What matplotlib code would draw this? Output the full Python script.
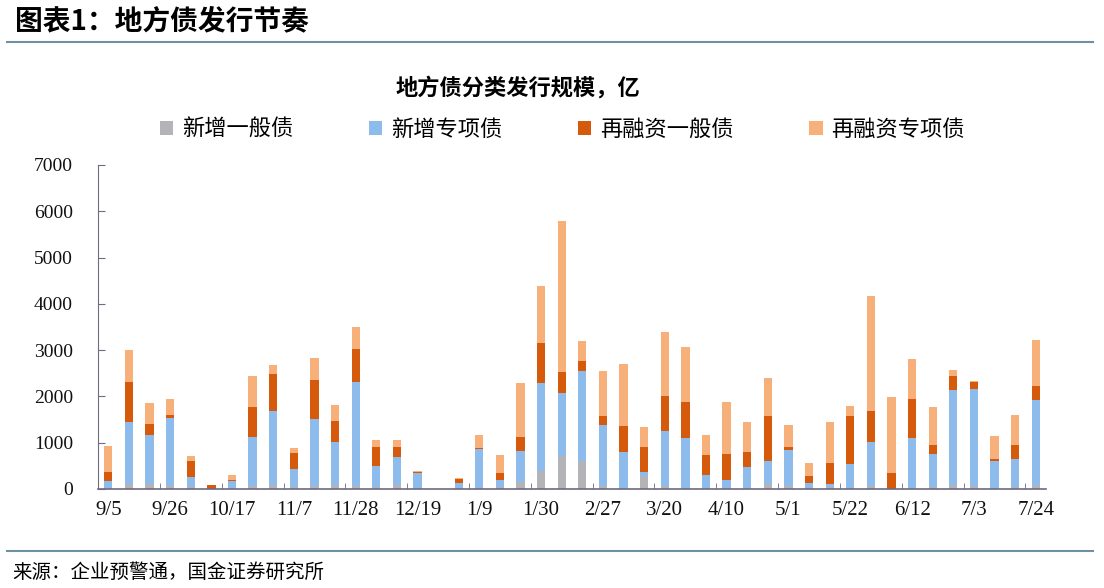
import numpy as np
import matplotlib
matplotlib.use('Agg')
import matplotlib.pyplot as plt
from matplotlib.lines import Line2D

plt.rcParams['font.family'] = ['Noto Sans CJK SC', 'DejaVu Sans']

dates = ['9/5', '9/12', '9/19', '9/26', '10/3', '10/10', '10/17', '10/24', '10/31',
         '11/7', '11/14', '11/21', '11/28', '12/5', '12/12', '12/19', '12/26', '1/2',
         '1/9', '1/16', '1/23', '1/30', '2/6', '2/13', '2/27', '3/6', '3/13', '3/20',
         '3/27', '4/3', '4/10', '4/17', '4/24', '5/1', '5/8', '5/15', '5/22', '5/29',
         '6/5', '6/12', '6/19', '6/26', '7/3', '7/10', '7/17', '7/24']

# 亿元
new_general = [30, 100, 100, 60, 40, 0, 0, 60, 80, 40, 70, 80, 60, 50, 90, 10, 0, 20,
               20, 40, 150, 380, 720, 600, 60, 30, 290, 60, 30, 20, 20, 30, 100, 60,
               30, 40, 30, 60, 0, 20, 40, 80, 60, 30, 40, 80]
new_special = [136, 1349, 1075, 1468, 212, 10, 180, 1057, 1614, 400, 1437, 929, 2262,
               440, 595, 336, 0, 110, 852, 162, 679, 1913, 1356, 1945, 1324, 770, 70,
               1202, 1066, 283, 182, 446, 498, 791, 100, 68, 518, 957, 0, 1076, 717,
               2054, 2103, 568, 609, 1852]
refi_general = [194, 873, 238, 65, 346, 77, 20, 656, 793, 339, 858, 469, 706, 426, 216,
                29, 0, 86, 8, 151, 296, 865, 455, 216, 202, 555, 541, 757, 786, 440,
                562, 332, 974, 50, 158, 454, 1024, 663, 346, 858, 195, 317, 144, 44,
                310, 289]
refi_special = [563, 677, 454, 354, 108, 7, 96, 678, 202, 115, 461, 346, 469, 151, 152,
                7, 0, 14, 281, 382, 1168, 1218, 3251, 440, 959, 1349, 440, 1377, 1182,
                425, 1111, 641, 822, 476, 274, 880, 216, 2487, 1644, 858, 829, 116, 36,
                497, 642, 995]

series = [('新增一般债', new_general, '#B3B3B8'),
          ('新增专项债', new_special, '#8DBCEC'),
          ('再融资一般债', refi_general, '#D65A0C'),
          ('再融资专项债', refi_special, '#F8B07A')]

fig = plt.figure(figsize=(11.04, 5.88), dpi=100)
ax = fig.add_axes([0.0888, 0.1684, 0.8587, 0.551])

x = np.arange(len(dates))
bottom = np.zeros(len(dates))
for name, vals, color in series:
    ax.bar(x, vals, width=0.4, bottom=bottom, color=color, label=name)
    bottom += np.array(vals)

ax.set_xlim(-0.5, len(dates) - 0.5)
ax.set_ylim(0, 7000)
ax.set_yticks(np.arange(0, 7001, 1000))
ax.set_xticks(x[::3])
ax.set_xticklabels(dates[::3])
ax.set_xticks(np.arange(2.5, len(dates), 3), minor=True)

for lab in ax.get_xticklabels():
    lab.set_family('Liberation Serif')
    lab.set_fontsize(15)
    lab.set_color('#111111')
for lab in ax.get_yticklabels():
    lab.set_family('Liberation Serif')
    lab.set_fontsize(14)
    lab.set_color('#111111')

axis_col = '#6E6A80'
ax.tick_params(axis='x', which='major', length=0, pad=9)
ax.tick_params(axis='x', which='minor', direction='in', length=4, color=axis_col)
ax.tick_params(axis='y', direction='in', length=5, color=axis_col, pad=18)
for s in ['top', 'right']:
    ax.spines[s].set_visible(False)
ax.spines['left'].set_color(axis_col)
ax.spines['bottom'].set_color(axis_col)
ax.spines['bottom'].set_linewidth(1.2)

fig.text(0.469, 0.85, '地方债分类发行规模，亿', ha='center', va='center',
         fontsize=16, fontweight='bold')
fig.legend(loc='center', bbox_to_anchor=(0.5095, 0.78), ncol=4, frameon=False,
           fontsize=16, handlelength=0.6, handleheight=0.6, handletextpad=0.4,
           columnspacing=3.4)

fig.text(0.014, 0.963, '图表1：地方债发行节奏', ha='left', va='center',
         fontsize=20, fontweight='bold')
fig.text(0.011, 0.027, '来源：企业预警通，国金证券研究所', ha='left', va='center',
         fontsize=14)
line_col = '#6F8FA3'
fig.add_artist(Line2D([0.006, 0.99], [1 - 42 / 588] * 2, color=line_col, lw=1.5))
fig.add_artist(Line2D([0.006, 0.99], [1 - 551 / 588] * 2, color=line_col, lw=1.5))

fig.savefig('out.png', dpi=100)
